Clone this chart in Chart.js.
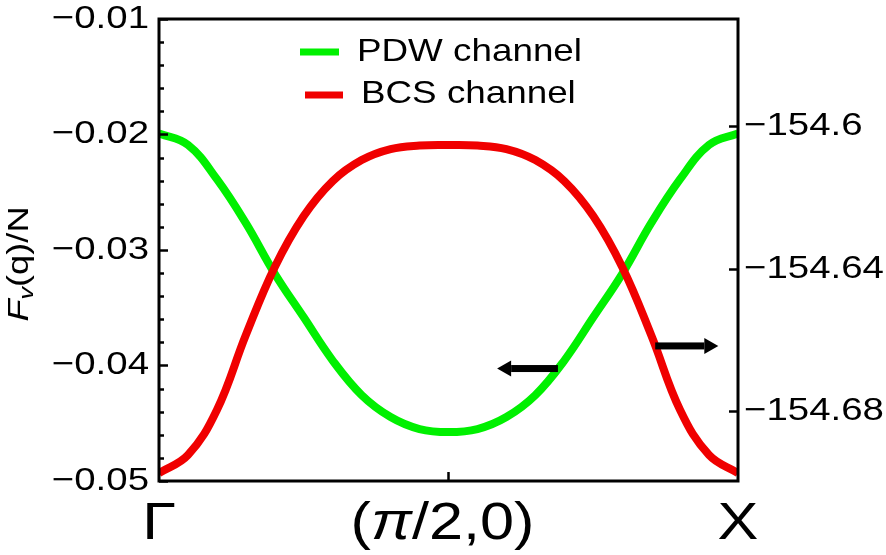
<!DOCTYPE html>
<html>
<head>
<meta charset="utf-8">
<script src="https://cdn.jsdelivr.net/npm/chart.js@4.4.1/dist/chart.umd.min.js"></script>
<style>
  html, body { margin: 0; padding: 0; background: #fff; }
</style>
</head>
<body>
<canvas id="chart" width="886" height="555"></canvas>
<script>
// momentum path Γ -> (π/2,0) -> X, as a fraction of the path
const qPoints = [0, 0.05, 0.10, 0.15, 0.20, 0.25, 0.30, 0.35, 0.40, 0.45, 0.50,
                 0.55, 0.60, 0.65, 0.70, 0.75, 0.80, 0.85, 0.90, 0.95, 1.00];

// PDW channel, left axis
const pdwValues = [-0.0199, -0.0209, -0.02387, -0.02768, -0.03206, -0.03583, -0.03957,
                   -0.04256, -0.04446, -0.04550, -0.04576, -0.04550, -0.04446, -0.04256,
                   -0.03957, -0.03583, -0.03206, -0.02768, -0.02387, -0.0209, -0.0199];

// BCS channel, right axis
const bcsValues = [-154.69727, -154.69222, -154.67961, -154.65859, -154.63952, -154.62523, -154.61542,
                   -154.60953, -154.60645, -154.60547, -154.60533, -154.60547, -154.60645, -154.60953,
                   -154.61542, -154.62523, -154.63952, -154.65859, -154.67961, -154.69222, -154.69727];

const xTickValues = [0, 0.5, 1];
const leftTicks = [-0.05, -0.04, -0.03, -0.02, -0.01];
const leftMinorStep = 0.002;
const rightTicks = [-154.68, -154.64, -154.6];

// arrows: [q from, q to, value] (tip is at "to")
const leftArrow = [0.689, 0.584, -0.04022];
const rightArrow = [0.857, 0.966, -154.6615];

const GREEN = 'rgb(0,240,0)';
const RED = 'rgb(240,0,0)';
const FONT = "'Liberation Sans', Arial, sans-serif";
const SX = 1.2; // text in the figure is a bit wider than plain Arial

function minusSign(s) {
    return s.replace('-', '\u2212');
}

// draw text runs (each with own font), stretched a little horizontally
function drawRuns(ctx, runs, x, y, align, sx) {
    sx = sx || SX;
    let w = 0;
    runs.forEach(r => {
        ctx.font = r.font;
        w += ctx.measureText(r.t).width;
    });
    w *= sx;
    let x0 = x;
    if (align === 'center') x0 = x - w / 2;
    if (align === 'right') x0 = x - w;
    ctx.save();
    ctx.translate(x0, y);
    ctx.scale(sx, 1);
    ctx.textAlign = 'left';
    ctx.textBaseline = 'middle';
    let cx = 0;
    runs.forEach(r => {
        ctx.font = r.font;
        ctx.fillText(r.t, cx, r.dy || 0);
        cx += ctx.measureText(r.t).width;
    });
    ctx.restore();
}

function drawArrow(ctx, x1, x2, y) {
    const dir = Math.sign(x2 - x1);
    const head = 14;
    ctx.save();
    ctx.fillStyle = '#000';
    ctx.fillRect(Math.min(x1, x2 - dir * head), y - 3, Math.abs(x2 - dir * head - x1), 7);
    ctx.beginPath();
    ctx.moveTo(x2, y + 0.5);
    ctx.lineTo(x2 - dir * head, y - 7.5);
    ctx.lineTo(x2 - dir * head, y + 8.5);
    ctx.closePath();
    ctx.fill();
    ctx.restore();
}

const framePlugin = {
    id: 'frame',
    afterDraw(chart) {
        const ctx = chart.ctx;
        const area = chart.chartArea;
        const xs = chart.scales.x, yl = chart.scales.y, yr = chart.scales.y2;
        ctx.save();
        ctx.strokeStyle = '#000';
        ctx.fillStyle = '#000';

        // frame
        ctx.lineWidth = 3;
        ctx.strokeRect(area.left, area.top, area.right - area.left, area.bottom - area.top);

        // left ticks, major + minor, pointing inwards
        ctx.lineWidth = 2.5;
        for (let v = -0.05; v <= -0.0099; v += leftMinorStep) {
            const y = Math.round(yl.getPixelForValue(v)) + 0.5;
            const major = leftTicks.some(t => Math.abs(t - v) < 1e-6);
            ctx.beginPath();
            ctx.moveTo(area.left, y);
            ctx.lineTo(area.left + (major ? 9 : 5), y);
            ctx.stroke();
        }
        // right ticks
        rightTicks.forEach(v => {
            const y = Math.round(yr.getPixelForValue(v)) + 0.5;
            ctx.beginPath();
            ctx.moveTo(area.right, y);
            ctx.lineTo(area.right - 9, y);
            ctx.stroke();
        });
        // bottom tick at (π/2,0)
        const xm = xs.getPixelForValue(0.5);
        ctx.beginPath();
        ctx.moveTo(xm, area.bottom);
        ctx.lineTo(xm, area.bottom - 9);
        ctx.stroke();

        // tick labels
        const tickFont = '32px ' + FONT;
        leftTicks.forEach(v => {
            drawRuns(ctx, [{t: minusSign(v.toFixed(2)), font: tickFont}], area.left - 10, yl.getPixelForValue(v), 'right');
        });
        rightTicks.forEach(v => {
            const s = minusSign(String(v));
            drawRuns(ctx, [{t: s, font: tickFont}], area.right + 6, yr.getPixelForValue(v), 'left');
        });

        // x labels
        const xFont = '51px ' + FONT;
        const xFontIt = 'italic 51px ' + FONT;
        const yLab = area.bottom + 44;
        drawRuns(ctx, [{t: '\u0393', font: xFont}], xs.getPixelForValue(xTickValues[0]), yLab, 'center');
        drawRuns(ctx, [{t: '(', font: xFont}, {t: '\u03c0', font: xFontIt}, {t: '/2,0)', font: xFont}],
            xs.getPixelForValue(xTickValues[1]) - 6, yLab, 'center');
        drawRuns(ctx, [{t: 'X', font: xFont}], xs.getPixelForValue(xTickValues[2]), yLab, 'center');

        // y title, rotated
        ctx.save();
        ctx.translate(20, (area.top + area.bottom) / 2 + 14);
        ctx.rotate(-Math.PI / 2);
        drawRuns(ctx, [
            {t: 'F', font: 'italic 29px ' + FONT},
            {t: 'v', font: 'italic 20px ' + FONT, dy: 7},
            {t: '(q)/N', font: '29px ' + FONT}
        ], 0, 0, 'center', 1.25);
        ctx.restore();

        // legend
        const legendFont = '32px ' + FONT;
        ctx.lineWidth = 7;
        ctx.strokeStyle = GREEN;
        ctx.beginPath(); ctx.moveTo(300, 52); ctx.lineTo(339, 52); ctx.stroke();
        ctx.strokeStyle = RED;
        ctx.beginPath(); ctx.moveTo(305, 95); ctx.lineTo(343, 95); ctx.stroke();
        drawRuns(ctx, [{t: 'PDW channel', font: legendFont}], 357, 52, 'left', 1.15);
        drawRuns(ctx, [{t: 'BCS channel', font: legendFont}], 361, 94, 'left', 1.15);

        // arrows showing which axis each curve uses
        drawArrow(ctx, xs.getPixelForValue(leftArrow[0]), xs.getPixelForValue(leftArrow[1]), yl.getPixelForValue(leftArrow[2]));
        drawArrow(ctx, xs.getPixelForValue(rightArrow[0]), xs.getPixelForValue(rightArrow[1]), yr.getPixelForValue(rightArrow[2]));

        ctx.restore();
    }
};

const ctx = document.getElementById('chart').getContext('2d');
new Chart(ctx, {
    type: 'line',
    data: {
        datasets: [
            {
                label: 'BCS channel',
                data: qPoints.map((q, i) => ({x: q, y: bcsValues[i]})),
                yAxisID: 'y2',
                borderColor: RED,
                borderWidth: 8,
                pointRadius: 0,
                tension: 0.4
            },
            {
                label: 'PDW channel',
                data: qPoints.map((q, i) => ({x: q, y: pdwValues[i]})),
                yAxisID: 'y',
                borderColor: GREEN,
                borderWidth: 8,
                pointRadius: 0,
                tension: 0.4
            }
        ]
    },
    options: {
        responsive: false,
        animation: false,
        events: [],
        layout: { padding: { top: 19, left: 0, right: 0, bottom: 0 } },
        plugins: { legend: { display: false }, tooltip: { enabled: false } },
        scales: {
            x: {
                type: 'linear', min: 0, max: 1,
                grid: { display: false }, border: { display: false },
                ticks: { display: false },
                afterFit: s => { s.height = 74; }
            },
            y: {
                position: 'left', min: -0.05, max: -0.01,
                grid: { display: false }, border: { display: false },
                ticks: { display: false },
                afterFit: s => { s.width = 159; }
            },
            y2: {
                position: 'right', min: -154.6995, max: -154.5700,
                grid: { display: false }, border: { display: false },
                ticks: { display: false },
                afterFit: s => { s.width = 148; }
            }
        }
    },
    plugins: [framePlugin]
});
</script>
</body>
</html>
